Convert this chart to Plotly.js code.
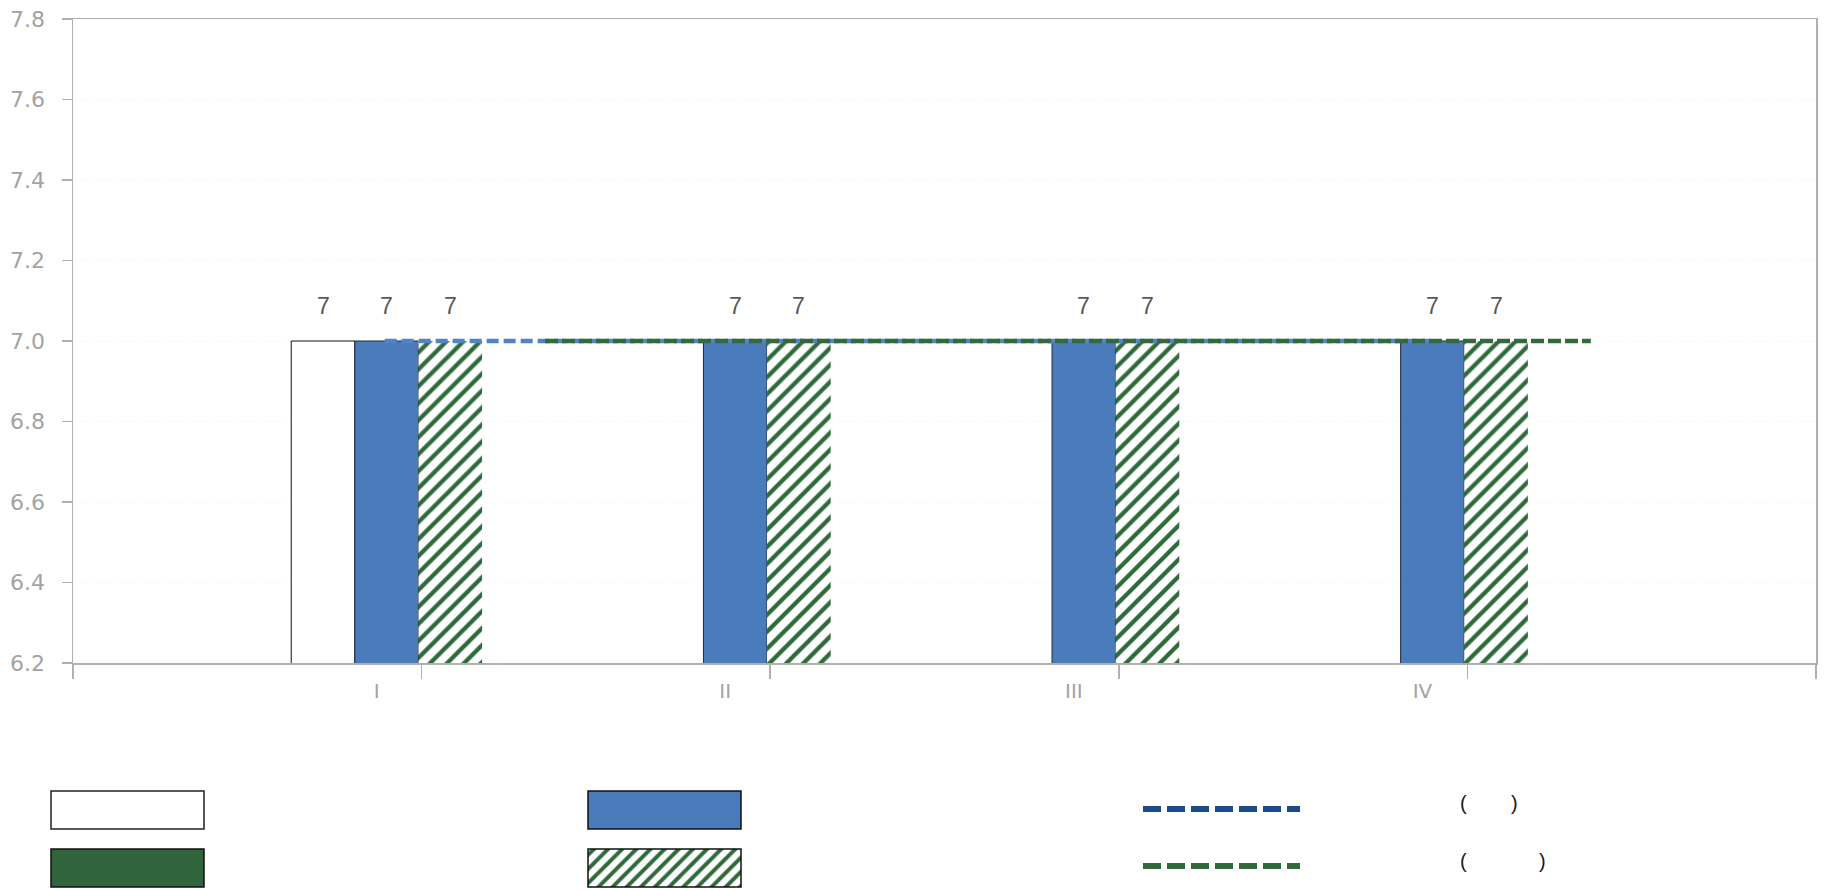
<!DOCTYPE html>
<html>
<head>
<meta charset="utf-8">
<script src="https://cdn.plot.ly/plotly-3.0.1.min.js"></script>
<style>
  html, body { margin: 0; padding: 0; background: #ffffff; }
  #chart { width: 1824px; height: 890px; }
</style>
</head>
<body>
<div id="chart"></div>
<script>
// ---------------- data ----------------
const categories = ['I', 'II', 'III', 'IV'];
const barWhite = [7, null, null, null];
const barBlue = [7, 7, 7, 7];
const barHatch = [7, 7, 7, 7];
const barGreen = [null, null, null, null];
const lineBlue = [7, 7, 7, 7];
const lineGreen = [7, 7, 7, 7];
const lineBlueName = '(\u00a0\u00a0\u00a0\u00a0\u00a0\u00a0\u00a0\u00a0)';
const lineGreenName = '(\u00a0\u00a0\u00a0\u00a0\u00a0\u00a0\u00a0\u00a0\u00a0\u00a0\u00a0\u00a0\u00a0)';

// ---------------- layout constants ----------------
const W = 1824, H = 890;
const L = 73, R = 1816, T = 19, B = 663;
const BARGAP = 0.27;
const NBARS = 4;
const barW = (1 - BARGAP) / NBARS;
const barShift = -0.009;     // bar group offset (category units)
const labelShift = -0.129;   // category label offset
const blueShift = -0.106;    // blue line offset
const greenShift = 0.354;    // green line offset
const idx = categories.map((c, i) => i);
const N = categories.length;

const BLUE = '#4a7bbb';
const GREEN = '#31643b';
const HATCHGREEN = '#2f6b3a';
const AXIS = '#b0b0b0';
const TICKTXT = '#a3a3a3';
const TICKFONT = 'DejaVu Sans, Liberation Sans, Arial, sans-serif';

const barSeries = [
  { name: ' ', values: barWhite, color: '#ffffff', line: { color: '#111111', width: 1 } },
  { name: ' ', values: barBlue, color: BLUE, line: { color: '#1e2a3c', width: 1 } },
  { name: ' ', values: barHatch, color: '#ffffff', line: { width: 0 },
    pattern: { shape: '/', fgcolor: HATCHGREEN, bgcolor: '#ffffff', size: 12, solidity: 0.36 } },
  { name: ' ', values: barGreen, color: GREEN, line: { color: '#111111', width: 1 } }
];

const traces = [];
// invisible trace that anchors the main axes (ticks, frame)
traces.push({ type: 'scatter', x: idx, y: barBlue, mode: 'none', xaxis: 'x', yaxis: 'y',
  showlegend: false, hoverinfo: 'skip' });

barSeries.forEach(s => {
  const m = { color: s.color, line: s.line };
  if (s.pattern) m.pattern = s.pattern;
  traces.push({
    type: 'bar', x: idx, y: s.values, name: s.name, marker: m,
    xaxis: 'x2', yaxis: 'y', showlegend: false, hoverinfo: 'skip'
  });
});

// invisible trace to carry the category label axis
traces.push({ type: 'scatter', x: idx, y: barBlue, mode: 'none', xaxis: 'x3', yaxis: 'y',
  showlegend: false, hoverinfo: 'skip' });

traces.push({ type: 'scatter', mode: 'lines', x: idx, y: lineBlue, name: lineBlueName,
  xaxis: 'x4', yaxis: 'y', line: { color: '#5283c4', width: 4.5, dash: '12px,5px' },
  showlegend: false, hoverinfo: 'skip' });
traces.push({ type: 'scatter', mode: 'lines', x: idx, y: lineGreen, name: lineGreenName,
  xaxis: 'x5', yaxis: 'y', line: { color: '#336a3d', width: 4.5, dash: '13px,4px' },
  showlegend: false, hoverinfo: 'skip' });

// ---------------- custom legend (pixel-unit subplot) ----------------
const LEG = {
  boxW: 153, boxH: 38,
  boxes: [ { x: 51, y: 791 }, { x: 588, y: 791 }, { x: 51, y: 849 }, { x: 588, y: 849 } ],
  lineX: [1143, 1300], lineY: [809, 866], textX: 1458, textY: [803, 861]
};
const legendBars = [
  { marker: { color: '#ffffff', line: { color: '#222222', width: 1.5 } } },
  { marker: { color: BLUE, line: { color: '#111111', width: 1.5 } } },
  { marker: { color: GREEN, line: { color: '#111111', width: 1.5 } } },
  { marker: { color: '#ffffff', line: { color: '#111111', width: 1.5 },
      pattern: { shape: '/', fgcolor: HATCHGREEN, bgcolor: '#ffffff', size: 10, solidity: 0.4 } } }
];
legendBars.forEach((lb, k) => {
  const b = LEG.boxes[k];
  traces.push({ type: 'bar', x: [b.x + LEG.boxW / 2], y: [LEG.boxH], base: [b.y],
    width: [LEG.boxW], offset: [-LEG.boxW / 2],
    marker: lb.marker, xaxis: 'x6', yaxis: 'y6', showlegend: false, hoverinfo: 'skip' });
});
const legendLines = [ { color: '#1d4a8a' }, { color: '#336a3d' } ];
legendLines.forEach((ll, k) => {
  traces.push({ type: 'scatter', mode: 'lines', x: LEG.lineX, y: [LEG.lineY[k], LEG.lineY[k]],
    line: { color: ll.color, width: 6, dash: '18px,6px' }, xaxis: 'x6', yaxis: 'y6',
    showlegend: false, hoverinfo: 'skip' });
});

// ---------------- annotations ----------------
const annotations = [];
barSeries.forEach((s, si) => {
  s.values.forEach((v, i) => {
    if (v === null || v === undefined) return;
    annotations.push({
      x: i + (si - (NBARS - 1) / 2) * barW, y: v, xref: 'x2', yref: 'y',
      text: String(v), showarrow: false, yshift: 35, yanchor: 'middle',
      font: { family: 'Liberation Sans, Arial, sans-serif', size: 23, color: '#595959' }
    });
  });
});
[lineBlueName, lineGreenName].forEach((t, k) => {
  annotations.push({ x: LEG.textX, y: LEG.textY[k], xref: 'x6', yref: 'y6', text: t,
    showarrow: false, xanchor: 'left', yanchor: 'middle',
    font: { family: 'Liberation Sans, Arial, sans-serif', size: 20, color: '#1a1a1a' } });
});

const xDom = [L / W, R / W];
const shifted = s => [-1 - s, N - s];
const layout = {
  width: W, height: H,
  margin: { l: 0, r: 0, t: 0, b: 0, pad: 0 },
  paper_bgcolor: '#ffffff', plot_bgcolor: 'rgba(0,0,0,0)',
  barmode: 'group', bargap: BARGAP, bargroupgap: 0,
  showlegend: false,
  font: { family: 'Liberation Sans, Arial, sans-serif' },
  xaxis: {
    domain: xDom, anchor: 'y', range: [-1, N],
    tickvals: [-1].concat(idx, [N]), showticklabels: false,
    ticks: 'outside', ticklen: 14, tickwidth: 1.5, tickcolor: AXIS,
    showline: true, linecolor: AXIS, linewidth: 1.5, mirror: true,
    showgrid: false, zeroline: false, fixedrange: true
  },
  xaxis2: { overlaying: 'x', anchor: 'y', visible: false, range: shifted(barShift), fixedrange: true },
  xaxis3: {
    overlaying: 'x', anchor: 'y', side: 'bottom', range: shifted(labelShift),
    tickvals: idx, ticktext: categories, ticks: '', showline: false, showgrid: false,
    zeroline: false, ticklabelstandoff: 14,
    tickfont: { family: TICKFONT, size: 20, color: TICKTXT },
    fixedrange: true
  },
  xaxis4: { overlaying: 'x', anchor: 'y', visible: false, range: shifted(blueShift), fixedrange: true },
  xaxis5: { overlaying: 'x', anchor: 'y', visible: false, range: shifted(greenShift), fixedrange: true },
  yaxis: {
    domain: [1 - B / H, 1 - T / H], anchor: 'x', range: [6.2, 7.8],
    tick0: 6.2, dtick: 0.2, tickformat: '.1f',
    ticks: 'outside', ticklen: 10, tickwidth: 1.5, tickcolor: AXIS,
    showline: true, linecolor: AXIS, linewidth: 1.5, mirror: true,
    showgrid: true, gridcolor: '#f6f6f6', griddash: 'dot', gridwidth: 1,
    zeroline: false, ticklabelstandoff: 12,
    tickfont: { family: TICKFONT, size: 22, color: TICKTXT },
    fixedrange: true
  },
  xaxis6: { domain: [0, 1], anchor: 'y6', range: [0, W], visible: false, fixedrange: true },
  yaxis6: { domain: [0, 140 / H], anchor: 'x6', range: [H, H - 140], visible: false, fixedrange: true },
  annotations: annotations
};

Plotly.newPlot('chart', traces, layout, { displayModeBar: false, staticPlot: true });
</script>
</body>
</html>
